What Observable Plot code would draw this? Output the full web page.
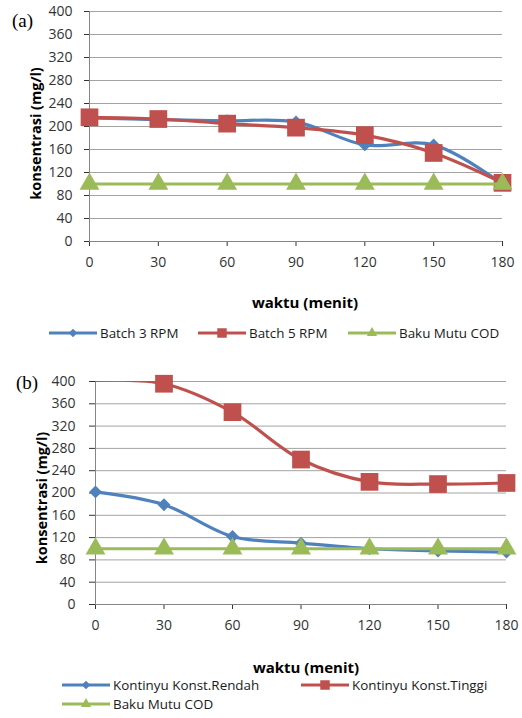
<!DOCTYPE html>
<html><head><meta charset="utf-8">
<script src="https://cdn.jsdelivr.net/npm/d3@7"></script>
<script src="https://cdn.jsdelivr.net/npm/@observablehq/plot@0.6"></script>
<style>
body{margin:0;background:#fff;}
#root{position:relative;width:522px;height:718px;overflow:hidden;font-family:"Open Sans",sans-serif;background:#fff;}
.abs{position:absolute;white-space:nowrap;}
</style></head><body><div id="root"></div>
<script>
// ---- data ----
const waktu = [0, 30, 60, 90, 120, 150, 180];
const yTicks = [0, 40, 80, 120, 160, 200, 240, 280, 320, 360, 400];
const seriesA = ["Batch 3 RPM", "Batch 5 RPM", "Baku Mutu COD"];
const batch3 = [215, 212, 210, 208, 168, 168, 100];
const batch5 = [216, 213, 205, 198, 185, 154, 102];
const bakuA = [100, 100, 100, 100, 100, 100, 100];
const seriesB = ["Kontinyu Konst.Rendah", "Kontinyu Konst.Tinggi", "Baku Mutu COD"];
const rendah = [202, 179, 122, 110, 100, 96, 94];
const tinggi = [402, 396, 345, 260, 220, 216, 218];
const bakuB = [100, 100, 100, 100, 100, 100, 100];
const xLabel = "waktu (menit)";
const yLabel = "konsentrasi (mg/l)";

// ---- styles ----
const colors = ["#4F81BD", "#C0504D", "#9BBB59"];
const symbols = ["diamond2", "square", "triangle"];
const radii = [5.8, 10, 7.4];
const d3symbols = [d3.symbolDiamond2, d3.symbolSquare, d3.symbolTriangle];

const root = document.getElementById("root");

function panel(cfg) {
  const marks = [
    Plot.ruleY(yTicks.filter(d => d > 0), {stroke: "#a3a3a3", strokeWidth: 1}),
    Plot.ruleX([0], {stroke: "#868686"}),
    Plot.ruleY([0], {stroke: "#868686"})
  ];
  cfg.series.forEach((arr, k) => {
    const data = waktu.map((t, i) => ({t, v: arr[i]}));
    marks.push(Plot.line(data, {x: "t", y: "v", stroke: colors[k], strokeWidth: 3.2,
      curve: "catmull-rom", clip: true}));
    marks.push(Plot.dot(data, {x: "t", y: "v", filter: d => d.v <= 400, symbol: symbols[k],
      r: radii[k], fill: colors[k], stroke: "none"}));
  });
  marks.push(Plot.text([yLabel], {text: d => d, frameAnchor: "left", textAnchor: "middle", rotate: -90,
    dx: cfg.ylabDx, dy: cfg.ylabDy, fontWeight: "bold", fontSize: 14.5, fill: "#000"}));
  const svg = Plot.plot({
    width: 522, height: cfg.height,
    marginLeft: cfg.ml, marginRight: cfg.mr, marginTop: 11, marginBottom: 35,
    style: {fontFamily: "Open Sans", fontSize: "14px", color: "#333", background: "transparent"},
    x: {domain: [0, 180], ticks: waktu, tickSize: 5, tickPadding: 11, label: null},
    y: {domain: [0, 400], ticks: yTicks, tickSize: cfg.yts, tickPadding: cfg.ytp, label: null},
    marks
  });
  svg.style.position = "absolute";
  svg.style.left = "0px";
  svg.style.top = cfg.top + "px";
  root.appendChild(svg);

  // panel tag
  const tag = document.createElement("div");
  tag.className = "abs";
  tag.textContent = cfg.tag;
  Object.assign(tag.style, {left: cfg.tagX + "px", top: cfg.tagY + "px",
    fontFamily: "'Liberation Serif', serif", fontSize: "19px", lineHeight: "22px", color: "#000"});
  root.appendChild(tag);

  // x label
  const xl = document.createElement("div");
  xl.className = "abs";
  xl.textContent = xLabel;
  Object.assign(xl.style, {left: (cfg.xlabCx - 70) + "px", width: "140px", textAlign: "center",
    top: cfg.xlabY + "px", fontWeight: "bold", fontSize: "15px", lineHeight: "20px", color: "#000"});
  root.appendChild(xl);

  // legend
  cfg.legend.forEach((it, k) => {
    const s = d3.create("svg").attr("width", 48).attr("height", 12)
      .style("position", "absolute").style("left", it.x + "px").style("top", (it.y - 6) + "px");
    s.append("line").attr("x1", 0).attr("x2", 48).attr("y1", 6).attr("y2", 6)
      .attr("stroke", colors[k]).attr("stroke-width", 3.2);
    s.append("path").attr("transform", "translate(24,6)")
      .attr("d", d3.symbol(d3symbols[k], k === 1 ? 90 : 45)()).attr("fill", colors[k]);
    root.appendChild(s.node());
    const t = document.createElement("div");
    t.className = "abs";
    t.textContent = cfg.names[k];
    Object.assign(t.style, {left: (it.x + 51) + "px", top: (it.y - 8) + "px",
      fontSize: "13.4px", color: "#1a1a1a", lineHeight: "16px"});
    root.appendChild(t);
  });
}

panel({
  series: [batch3, batch5, bakuA], names: seriesA,
  top: 0, height: 276, ml: 89, mr: 20, yts: 5, ytp: 12,
  ylabDx: -53, ylabDy: 7,
  tag: "(a)", tagX: 12, tagY: 10,
  xlabCx: 305, xlabY: 292,
  legend: [{x: 49, y: 333}, {x: 198, y: 333}, {x: 348, y: 333}]
});
panel({
  series: [rendah, tinggi, bakuB], names: seriesB,
  top: 370, height: 269, ml: 95, mr: 16, yts: 6, ytp: 14,
  ylabDx: -53, ylabDy: 5,
  tag: "(b)", tagX: 16, tagY: 372,
  xlabCx: 306, xlabY: 657,
  legend: [{x: 62, y: 685}, {x: 301, y: 685}, {x: 62, y: 704}]
});
</script></body></html>
